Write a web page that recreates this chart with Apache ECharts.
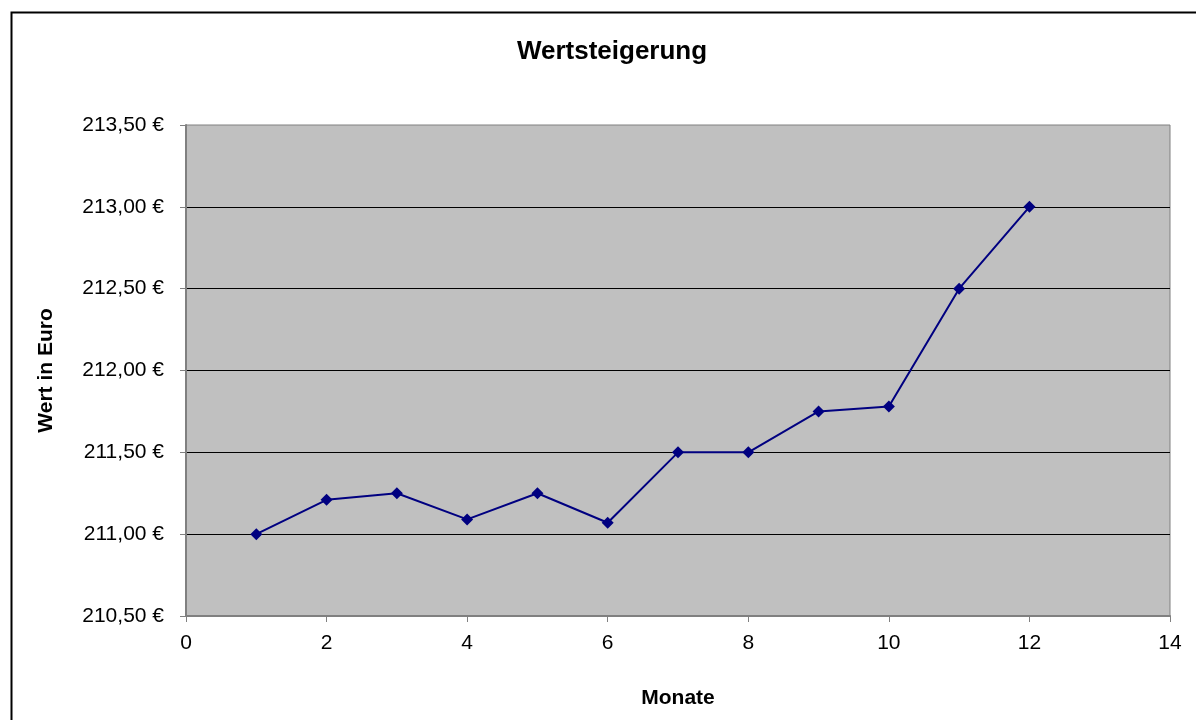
<!DOCTYPE html>
<html>
<head>
<meta charset="utf-8">
<script src="https://cdn.jsdelivr.net/npm/echarts@6/dist/echarts.min.js"></script>
<style>html,body{margin:0;padding:0;background:#fff;}#c{width:1196px;height:720px;}</style>
</head>
<body>
<div id="c"></div>
<script>
const months = [1, 2, 3, 4, 5, 6, 7, 8, 9, 10, 11, 12];
const values = [211.00, 211.21, 211.25, 211.09, 211.25, 211.07, 211.50, 211.50, 211.75, 211.78, 212.50, 213.00];
const titleText = 'Wertsteigerung';
const xName = 'Monate';
const yName = 'Wert in Euro';

const chart = echarts.init(document.getElementById('c'));
const font = 'Liberation Sans, Arial, sans-serif';
chart.setOption({
  animation: false,
  backgroundColor: '#fff',
  graphic: [{
    type: 'rect', left: 9, top: 10, silent: true,
    shape: { width: 1300, height: 800 },
    style: { fill: 'none', stroke: '#000', lineWidth: 2 }
  }],
  title: {
    text: titleText, left: 607, top: 34, textAlign: 'center',
    textStyle: { fontFamily: font, fontSize: 26, fontWeight: 'bold', color: '#000' }
  },
  grid: {
    left: 186, top: 125, width: 984, height: 491,
    show: true, backgroundColor: '#C0C0C0', borderColor: '#808080', borderWidth: 1
  },
  xAxis: {
    type: 'value', min: 0, max: 14, interval: 2,
    name: xName, nameLocation: 'middle', nameGap: 72,
    nameTextStyle: { fontFamily: font, fontSize: 21, fontWeight: 'bold', color: '#000' },
    axisLine: { onZero: false, lineStyle: { color: '#808080', width: 2 } },
    axisTick: { show: true, inside: false, length: 6, lineStyle: { color: '#808080' } },
    axisLabel: { fontFamily: font, fontSize: 21, color: '#000', margin: 17 },
    splitLine: { show: false }
  },
  yAxis: {
    type: 'value', min: 210.5, max: 213.5, interval: 0.5,
    name: yName, nameLocation: 'middle', nameGap: 129,
    nameTextStyle: { fontFamily: font, fontSize: 21, fontWeight: 'bold', color: '#000' },
    axisLine: { show: true, lineStyle: { color: '#808080', width: 2 } },
    axisTick: { show: true, inside: false, length: 6, lineStyle: { color: '#808080' } },
    axisLabel: {
      fontFamily: font, fontSize: 21, color: '#000', margin: 22,
      formatter: v => v.toFixed(2).replace('.', ',') + ' €'
    },
    splitLine: { show: true, showMinLine: false, showMaxLine: false, lineStyle: { color: '#000', width: 1 } }
  },
  series: [{
    type: 'line',
    data: months.map((m, i) => [m, values[i]]),
    symbol: 'diamond', symbolSize: 12,
    lineStyle: { color: '#000080', width: 2 },
    itemStyle: { color: '#000080' }
  }]
});
</script>
</body>
</html>
